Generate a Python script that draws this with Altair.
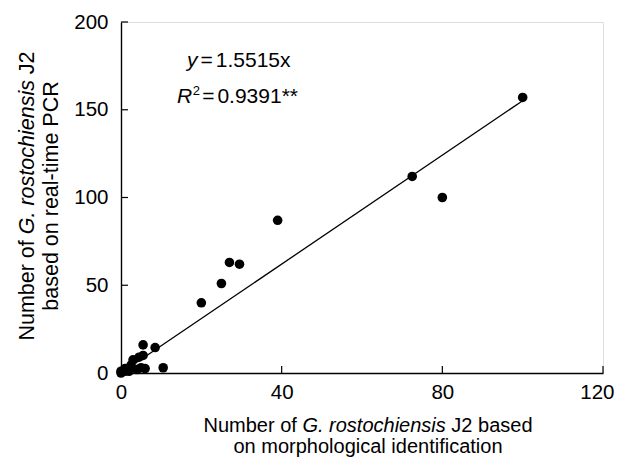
import altair as alt
import pandas as pd

# ---- data ----
morph_x = [0, 0, 1, 1, 2, 2.5, 3, 4, 4.5, 5, 5.5, 6, 5.5, 8.5, 10.5,
           20, 25, 27, 29.5, 39, 72.5, 80, 100]
pcr_y = [0, 1, 1, 2.5, 1, 4.5, 7.5, 2, 9, 3, 10, 2.5, 16, 14.5, 3,
         40, 51, 63, 62, 87, 112, 100, 157]
fit_x = [0, 100]
fit_y = [0, 155.15]
x_ticks = [0, 40, 80, 120]
y_ticks = [0, 50, 100, 150, 200]

FONT = "Liberation Sans"
W, H = 482, 351

# Arial / Liberation Sans advance widths (per 1000 em)
AW = {' ': 278, 'N': 722, 'u': 556, 'm': 833, 'b': 556, 'e': 556, 'r': 333,
      'o': 556, 'f': 278, 'G': 778, '.': 278, 's': 500, 't': 278, 'c': 500,
      'h': 556, 'i': 222, 'n': 556, 'J': 500, '2': 556, 'a': 556, 'd': 556,
      'l': 222, 'g': 556, 'p': 556, '-': 333, 'P': 667, 'C': 722, 'R': 722,
      'y': 500, 'x': 500, '=': 584, '1': 556, '5': 556, '0': 556, '9': 556,
      '3': 556, '*': 389}


def tw(s, fs):
    return sum(AW.get(ch, 556) for ch in s) * fs / 1000.0


df = pd.DataFrame({"x": morph_x, "y": pcr_y})
fit = pd.DataFrame({"x": fit_x, "y": fit_y})

xscale = alt.Scale(domain=[0, 120], nice=False, zero=False)
yscale = alt.Scale(domain=[0, 200], nice=False, zero=False)

TICK_FS = 20.5
x_axis = alt.Axis(values=x_ticks, title=None, grid=False, ticks=False,
                  tickSize=0, labelPadding=9, labelFontSize=TICK_FS,
                  labelFont=FONT, labelColor="black", domainColor="black",
                  domainWidth=1.4, labelFlush=False,
                  labelAlign={"expr": "datum.value == 120 ? 'right' : 'center'"},
                  labelOffset={"expr": "datum.value == 120 ? 11 : 0"})
y_axis = alt.Axis(values=y_ticks, title=None, grid=False, ticks=False,
                  tickSize=0, labelPadding=13, labelFontSize=TICK_FS,
                  labelFont=FONT, labelColor="black", domainColor="black",
                  domainWidth=1.4, labelFlush=False)

line = alt.Chart(fit).mark_line(color="black", strokeWidth=1.3).encode(
    x=alt.X("x:Q", scale=xscale, axis=x_axis),
    y=alt.Y("y:Q", scale=yscale, axis=y_axis),
)

points = alt.Chart(df).mark_circle(size=92, color="black", opacity=1).encode(
    x=alt.X("x:Q", scale=xscale, axis=x_axis),
    y=alt.Y("y:Q", scale=yscale, axis=y_axis),
)

xt = alt.Chart(pd.DataFrame({"v": x_ticks[1:]})).mark_rule(color="black", strokeWidth=1.2).encode(
    x=alt.X("v:Q", scale=xscale, axis=x_axis),
    y=alt.value(H), y2=alt.value(H - 7),
)
yt = alt.Chart(pd.DataFrame({"v": y_ticks[1:]})).mark_rule(color="black", strokeWidth=1.2).encode(
    y=alt.Y("v:Q", scale=yscale, axis=y_axis),
    x=alt.value(0), x2=alt.value(7),
)

layers = [line, points, xt, yt]


def txt(s, x, y, fs, italic=False, angle=0, align="left"):
    kw = dict(font=FONT, fontSize=fs, color="black", align=align,
              baseline="alphabetic")
    if italic:
        kw["fontStyle"] = "italic"
    if angle:
        kw["angle"] = angle
    return alt.Chart(pd.DataFrame({"t": [s]})).mark_text(**kw).encode(
        text="t:N", x=alt.value(x), y=alt.value(y))


# x-axis title (two lines, italic species name)
XFS = 20
xa, xb, xc = "Number of ", "G. rostochiensis", " J2 based"
total = tw(xa + xb + xc, XFS)
cx = 368 - 121
sx = cx - total / 2
bl1 = 432 - 22
layers.append(txt("Number of", sx, bl1, XFS))
layers.append(txt(xb, sx + tw(xa, XFS), bl1, XFS, italic=True))
layers.append(txt("J2 based", sx + tw(xa + xb + " ", XFS), bl1, XFS))
layers.append(txt("on morphological identification", cx, bl1 + 21, XFS, align="center"))

# y-axis title (rotated)
YFS = 21.5
ya, yb, yc = "Number of ", "G. rostochiensis", " J2"
totaly = tw(ya + yb + yc, YFS)
cy = 196 - 22
sy = cy + totaly / 2
xl1 = 33.5 - 121
layers.append(txt("Number of", xl1, sy, YFS, angle=270))
layers.append(txt(yb, xl1, sy - tw(ya, YFS), YFS, italic=True, angle=270))
layers.append(txt("J2", xl1, sy - tw(ya + yb + " ", YFS), YFS, angle=270))
layers.append(txt("based on real-time PCR", xl1 + 24.5, cy, YFS, angle=270, align="center"))

# equation annotation
EFS = 21
ex, ey = 187 - 121, 67 - 22
layers.append(txt("y", ex, ey, EFS, italic=True))
e1 = ex + tw("y", EFS) + 3
layers.append(txt("=", e1, ey, EFS))
layers.append(txt("1.5515x", e1 + tw("=", EFS) + 3, ey, EFS))
rx, ry = 177 - 121, 103 - 22
layers.append(txt("R", rx, ry, EFS, italic=True))
layers.append(txt("2", rx + tw("R", EFS) + 0.5, ry - 8, 13))
r1 = rx + tw("R", EFS) + 10
layers.append(txt("=", r1, ry, EFS))
layers.append(txt("0.9391**", r1 + tw("=", EFS) + 3, ry, EFS))

chart = alt.layer(*layers).properties(
    width=W, height=H,
    padding={"left": 113, "top": 14, "right": 12, "bottom": 87},
    autosize=alt.AutoSizeParams(type="none"),
).configure_view(stroke=None).configure(background="white")

chart.save("out.html", embed_options={"renderer": "svg", "actions": False})
